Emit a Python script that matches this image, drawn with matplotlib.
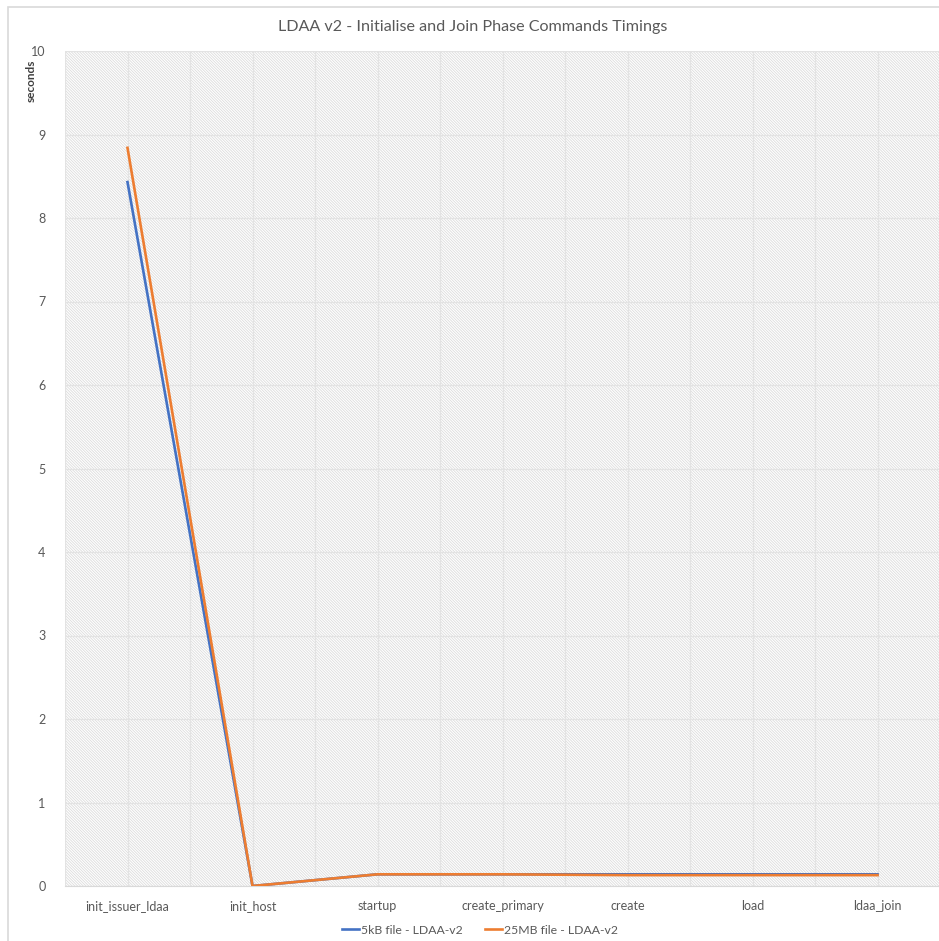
import matplotlib
matplotlib.use("Agg")
import matplotlib.pyplot as plt
from matplotlib.patches import Rectangle
from matplotlib.lines import Line2D

commands = ['init_issuer_ldaa', 'init_host', 'startup', 'create_primary',
            'create', 'load', 'ldaa_join']
small_file = [8.43, 0.0, 0.14, 0.14, 0.14, 0.14, 0.14]
large_file = [8.84, 0.0, 0.14, 0.14, 0.13, 0.13, 0.13]
series_labels = ['5kB file - LDAA-v2', '25MB file - LDAA-v2']
y_ticks = list(range(0, 11))

BLUE = '#4472C4'
ORANGE = '#ED7D31'
TEXT = '#595959'
plt.rcParams['font.family'] = ['Lato', 'DejaVu Sans']
plt.rcParams['hatch.color'] = '#dcdcdc'
plt.rcParams['hatch.linewidth'] = 0.6

W, H = 939, 941
fig = plt.figure(figsize=(W / 100, H / 100), dpi=100)

# outer chart frame
fig.add_artist(Rectangle((8 / W, 1 - 1000 / H), 1000 / W, (1000 - 7) / H,
                         transform=fig.transFigure, fill=False,
                         edgecolor='#d9d9d9', linewidth=1.2))

ax = fig.add_axes([65 / W, 1 - 886 / H, 875 / W, (886 - 51) / H])
ax.set_xlim(-0.5, len(commands) - 0.5)
ax.set_ylim(0, 10)

# diagonal hatched plot background
ax.add_patch(Rectangle((0, 0), 1, 1, transform=ax.transAxes, facecolor='white',
                       hatch='\\' * 12, edgecolor='#dcdcdc', linewidth=0, zorder=0))

xs = list(range(len(commands)))
ax.plot(xs, small_file, color=BLUE, linewidth=1.9, zorder=3, solid_joinstyle='miter')
ax.plot(xs, large_file, color=ORANGE, linewidth=1.9, zorder=4, solid_joinstyle='miter')

ax.set_xticks(xs)
ax.set_xticklabels(commands)
ax.set_xticks([x + 0.5 for x in range(-1, len(commands))], minor=True)
ax.set_yticks(y_ticks)
ax.grid(True, which='both', axis='x', color='#e3e3e3', linewidth=0.9, zorder=1)
ax.grid(True, which='major', axis='y', color='#e3e3e3', linewidth=0.9, zorder=1)
ax.set_axisbelow(True)
ax.tick_params(axis='both', which='both', length=0, colors=TEXT, labelsize=9)
ax.tick_params(axis='x', pad=10)
ax.tick_params(axis='y', pad=14)
for s in ['top', 'right', 'left']:
    ax.spines[s].set_visible(False)
ax.spines['bottom'].set_color('#d9d9d9')

fig.text(31 / W, 1 - 81 / H, 'seconds', rotation=90, ha='center', va='center',
         fontsize=8.5, fontweight='bold', color='#404040')

fig.text(473 / W, 1 - 27 / H, 'LDAA v2 - Initialise and Join Phase Commands Timings',
         ha='center', va='center', fontsize=11.6, color=TEXT)

handles = [Line2D([], [], color=BLUE, linewidth=1.9),
           Line2D([], [], color=ORANGE, linewidth=1.9)]
fig.legend(handles, series_labels, loc='center', bbox_to_anchor=(480 / W, 1 - 930 / H),
           ncol=2, frameon=False, fontsize=8.8, labelcolor=TEXT, handlelength=1.4,
           handletextpad=0.15, columnspacing=1.8)

fig.savefig('out.png', dpi=100)
